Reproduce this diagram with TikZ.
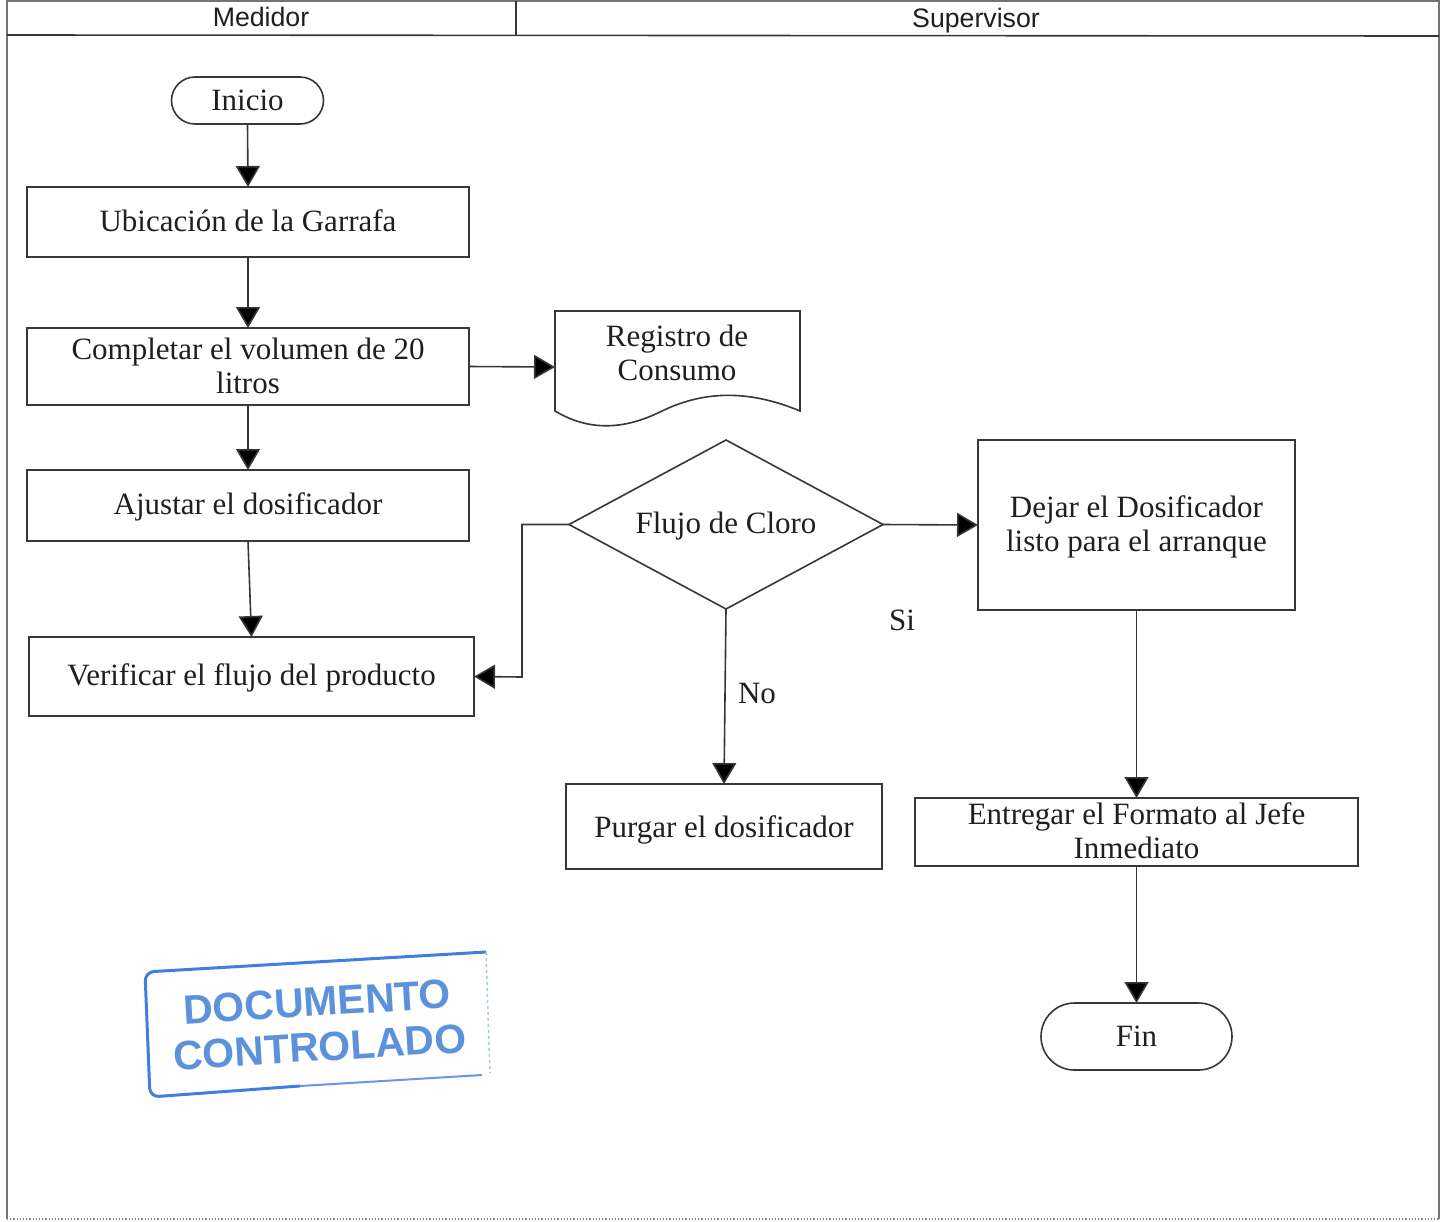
\documentclass[tikz,border=0pt]{standalone}
\usepackage{fontspec}
\setmainfont{Liberation Serif}
\newfontfamily\hdr{Liberation Sans}
\usetikzlibrary{shapes.geometric,shapes.misc,arrows.meta}
\definecolor{ln}{HTML}{33383B}
\definecolor{stamp}{HTML}{3F7FE0}
\definecolor{stamptext}{HTML}{5C92DC}
\tikzset{x=1pt,y=-1pt,
 every node/.style={text=black!88,font=\fontsize{31}{34}\selectfont,align=center,inner sep=0pt,outer sep=0pt},
 boxn/.style={draw=ln,line width=1.6pt,rectangle,anchor=north west},
 term/.style={draw=ln,line width=1.6pt,rounded rectangle},
 lnk/.style={draw=ln,line width=1.6pt,-{Triangle[length=21pt,width=24pt,fill=black]}},
 head/.style={font=\hdr\fontsize{26.7}{30}\selectfont},
 stamptxt/.style={text=stamptext,font=\hdr\bfseries\fontsize{41}{45}\selectfont,rotate=3.5}}
\begin{document}
\begin{tikzpicture}
\useasboundingbox (0,0) rectangle (1442,1221);
\fill[white] (0,0) rectangle (1442,1221);
% frame
\coordinate (fa) at (7,1); \coordinate (fb) at (1439,1); \coordinate (fc) at (1439,1219); \coordinate (fd) at (7,1219);
\draw[ln!70,line width=1.4pt] (fd) -- (fa) -- (fb) -- (fc);
\draw[ln!60,line width=1.2pt,dotted] (fd) -- (fc);
\coordinate (ha) at (7,35); \coordinate (hb) at (1439,36);
\draw[ln,line width=1.6pt] (ha) -- (hb);
\coordinate (hc) at (516,1); \coordinate (hd) at (516,35);
\draw[ln,line width=1.2pt] (hc) -- (hd);
\node[head] (medidor) at (261,17) {Medidor};
\node[head] (supervisor) at (976,20.5) {Supervisor};
% boxes
\node[term,minimum width=152pt,minimum height=47pt] (inicio) at (247.5,100.5) {Inicio};
\node[boxn,minimum width=442pt,minimum height=70pt] (ubic) at (27,187) {};
\node (ubict) at (248,221) {Ubicación de la Garrafa};
\node[boxn,minimum width=442pt,minimum height=77pt] (comp) at (27,328) {};
\node (compt) at (248,366) {Completar el volumen de 20\\litros};
\node[boxn,minimum width=442pt,minimum height=71pt] (ajus) at (27,470) {};
\node (ajust) at (248,507) {Ajustar el dosificador};
\node[boxn,minimum width=445pt,minimum height=79pt] (veri) at (29,637) {};
\node (verit) at (251.5,678) {Verificar el flujo del producto};
% document
\draw[ln,line width=1.6pt] (555,311) -- (800,311) -- (800,411) .. controls (745,388) and (700,392) .. (660,412) .. controls (625,429) and (590,432) .. (555,411) -- cycle;
\coordinate (regw) at (555,367);
\node (reg) at (677,353) {Registro de\\Consumo};
% diamond
\node[draw=ln,line width=1.6pt,diamond,shape aspect=1.86,minimum width=314pt,minimum height=169pt] (flujo) at (726,524.5) {};
\node (flujot) at (726,526) {Flujo de Cloro};
\node[boxn,minimum width=317pt,minimum height=170pt] (dejar) at (978,440) {};
\node (dejart) at (1136.5,527) {Dejar el Dosificador\\listo para el arranque};
\node[boxn,minimum width=316pt,minimum height=85pt] (purgar) at (566,784) {};
\node (purgart) at (724,830) {Purgar el dosificador};
\node[boxn,minimum width=443pt,minimum height=68pt] (entre) at (915,798) {};
\node (entret) at (1136.5,831) {Entregar el Formato al Jefe\\Inmediato};
\node[term,minimum width=191pt,minimum height=67pt] (fin) at (1136.5,1036.5) {Fin};
\node (si) at (902,620) {Si};
\node (no) at (757,693) {No};
% connectors
\draw[lnk] (inicio.south) -- (ubic.north);
\draw[lnk] (ubic.south) -- (comp.north);
\draw[lnk] (comp.south) -- (ajus.north);
\draw[lnk] (ajus.south) -- (veri.north);
\draw[lnk] (comp.east) -- (regw);
\draw[lnk] (flujo.west) -| (522,677) -- (veri.east);
\draw[lnk] (flujo.east) -- (dejar.west);
\draw[lnk] (flujo.south) -- (purgar.north);
\draw[lnk] (dejar.south) -- (entre.north);
\draw[lnk] (entre.south) -- (fin.north);
% stamp
\draw[stamp,line width=3pt,rounded corners=9pt] (486,952) -- (145,972) -- (150,1097) -- (300,1086);
\draw[stamp!80,line width=2pt] (300,1086) -- (482,1075);
\draw[stamp!45,line width=1.5pt,dashed] (486,952) -- (490,1073);
\node[stamptxt] (st1) at (318.5,1024.5) {DOCUMENTO\\CONTROLADO};
\end{tikzpicture}
\end{document}
